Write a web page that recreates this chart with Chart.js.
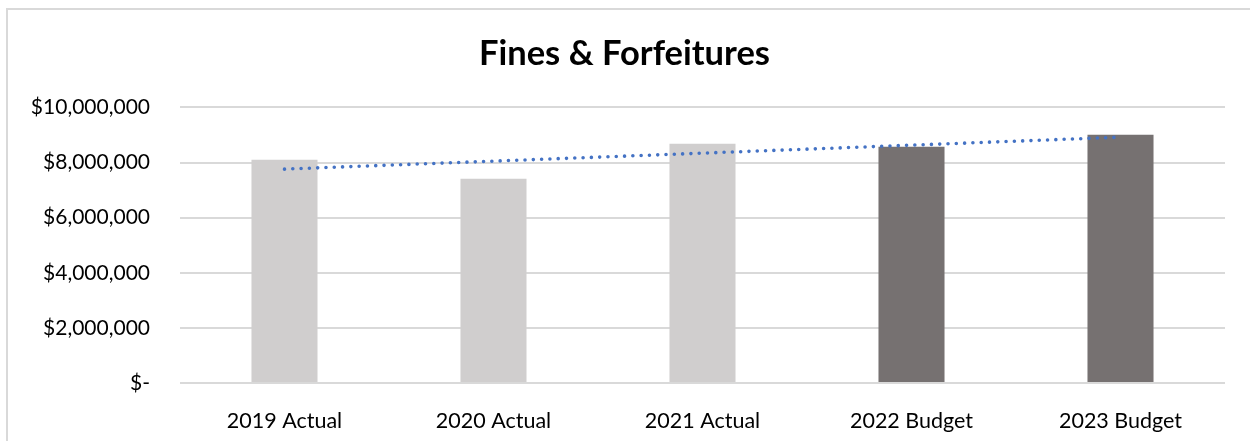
<!DOCTYPE html>
<html>
<head>
<meta charset="utf-8">
<script src="https://cdn.jsdelivr.net/npm/chart.js@4.4.0/dist/chart.umd.min.js"></script>
<style>
  html, body { margin: 0; padding: 0; background: #fff; }
  #frame {
    position: absolute; left: 6px; top: 8px; width: 1250px; height: 450px;
    border-left: 2px solid #d9d9d9; border-top: 2px solid #d9d9d9;
  }
  #wrap { position: absolute; left: 0; top: 0; width: 1250px; height: 441px; }
</style>
</head>
<body>
<div id="frame"></div>
<div id="wrap"><canvas id="finesChart" width="1250" height="441"></canvas></div>
<script>
const categories = ['2019 Actual', '2020 Actual', '2021 Actual', '2022 Budget', '2023 Budget']
const amounts = [8100000, 7410000, 8680000, 8570000, 9010000]
const barColors = ['#d0cece', '#d0cece', '#d0cece', '#767171', '#767171']
// trendline ends (linear trend, first to last year)
const trendValues = [7760000, null, null, null, 8920000]
const yTicks = [0, 2000000, 4000000, 6000000, 8000000, 10000000]

const fontFamily = "Lato, 'Open Sans', sans-serif"

function money(v) {
    if (v === 0) return '$-'
    return '$' + v.toLocaleString('en-US')
}

const finesChart = new Chart(document.getElementById('finesChart'), {
    type: 'bar',
    data: {
        labels: categories,
        datasets: [
            {
                type: 'line',
                label: 'Trend',
                data: trendValues,
                spanGaps: true,
                borderColor: '#4472c4',
                borderWidth: 3.6,
                borderDash: [0, 8.3],
                borderCapStyle: 'round',
                pointRadius: 0,
                fill: false,
                order: 0
            },
            {
                label: 'Fines & Forfeitures',
                data: amounts,
                backgroundColor: barColors,
                categoryPercentage: 1,
                barPercentage: 0.316,
                order: 1
            }
        ]
    },
    options: {
        responsive: false,
        animation: false,
        // left padding nudges the title right, y labels still fit in the axis box
        layout: { padding: { left: 24, right: 25, top: 0, bottom: 0 } },
        plugins: {
            legend: { display: false },
            tooltip: { enabled: false },
            title: {
                display: true,
                text: 'Fines & Forfeitures',
                color: '#000',
                font: { family: fontFamily, size: 34.5, weight: 'bold', lineHeight: 1.2 },
                padding: { top: 33, bottom: 33 }
            }
        },
        scales: {
            x: {
                grid: { display: false },
                border: { display: false },
                ticks: {
                    color: '#000',
                    font: { family: fontFamily, size: 21.5 },
                    padding: 17,
                    maxRotation: 0
                },
                afterFit: (scale) => { scale.height = 58 }
            },
            y: {
                min: 0,
                max: 10000000,
                afterBuildTicks: (scale) => { scale.ticks = yTicks.map(v => ({ value: v })) },
                grid: { color: '#d9d9d9', lineWidth: 2, drawTicks: false },
                border: { display: false },
                ticks: {
                    color: '#000',
                    font: { family: fontFamily, size: 21 },
                    padding: 30,
                    callback: (v) => money(v)
                },
                afterFit: (scale) => { scale.width = 156 }
            }
        }
    }
})
</script>
</body>
</html>
